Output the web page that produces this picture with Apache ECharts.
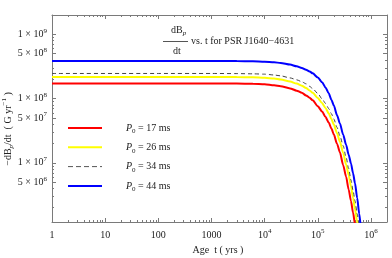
<!DOCTYPE html>
<html><head><meta charset="utf-8">
<script src="https://cdn.jsdelivr.net/npm/echarts@6/dist/echarts.min.js"></script>
<style>html,body{margin:0;padding:0;background:#fff}#c{width:392px;height:258px}</style>
</head><body><div id="c"></div>
<script>
// ---- data ----
const xMajorTicks = [1, 10, 100, 1000, 1e4, 1e5, 1e6];
const xTickLabels = ['1', '10', '100', '1000', '10^4', '10^5', '10^6'];
const yMajorTicks = [5e6, 1e7, 5e7, 1e8, 5e8, 1e9];
const yTickLabels = ['5 × 10^6', '1 × 10^7', '5 × 10^7', '1 × 10^8', '5 × 10^8', '1 × 10^9'];
const legendLabels = ['P0 = 17 ms', 'P0 = 26 ms', 'P0 = 34 ms', 'P0 = 44 ms'];
// ages (yrs) at which the curves were read
const ages = [1, 100, 1000, 3000, 6000, 1e4, 1.5e4, 2e4, 3e4, 4e4, 5e4, 6e4, 7e4, 8e4, 1e5, 1.2e5, 1.4e5, 1.6e5, 1.8e5, 2e5, 2.3e5, 2.6e5, 3e5, 3.4e5, 3.8e5, 4.2e5, 4.6e5, 5e5, 5.5e5, 6e5, 6.5e5, 7e5];
// -dBp/dt (G/yr) for each age
const p17 = [1.72e8, 1.72e8, 1.72e8, 1.71e8, 1.70e8, 1.67e8, 1.61e8, 1.56e8, 1.44e8, 1.33e8, 1.23e8, 1.12e8, 1.03e8, 9.4e7, 7.6e7, 6.3e7, 5.15e7, 4.24e7, 3.42e7, 2.76e7, 1.97e7, 1.46e7, 9.2e6, 6.1e6, 3.85e6, 2.55e6, 1.68e6, 1.12e6, 6.9e5];
const p26 = [2.17e8, 2.17e8, 2.17e8, 2.16e8, 2.14e8, 2.11e8, 2.05e8, 1.98e8, 1.84e8, 1.71e8, 1.59e8, 1.46e8, 1.34e8, 1.23e8, 1.02e8, 8.5e7, 7.1e7, 5.9e7, 4.8e7, 3.94e7, 2.88e7, 2.14e7, 1.42e7, 9.4e6, 6.5e6, 4.3e6, 2.84e6, 1.91e6, 1.19e6, 7.7e5];
const p34 = [2.46e8, 2.46e8, 2.46e8, 2.45e8, 2.43e8, 2.40e8, 2.33e8, 2.26e8, 2.10e8, 1.96e8, 1.83e8, 1.70e8, 1.55e8, 1.43e8, 1.20e8, 9.9e7, 8.4e7, 7.0e7, 5.8e7, 4.8e7, 3.56e7, 2.64e7, 1.84e7, 1.22e7, 8.2e6, 5.4e6, 3.7e6, 2.57e6, 1.6e6, 1.03e6, 6.6e5];
const p44 = [3.85e8, 3.85e8, 3.85e8, 3.83e8, 3.80e8, 3.75e8, 3.67e8, 3.59e8, 3.38e8, 3.18e8, 3.0e8, 2.81e8, 2.65e8, 2.47e8, 2.12e8, 1.8e8, 1.48e8, 1.21e8, 9.6e7, 7.8e7, 5.5e7, 4.1e7, 2.73e7, 1.91e7, 1.34e7, 9.8e6, 6.9e6, 4.8e6, 2.83e6, 1.62e6, 9.6e5, 5.9e5];

const X_MIN = 1, X_MAX = 2e6, Y_MIN = 1.2e6, Y_MAX = 2e9;
const FONT = 'Liberation Serif';
const FRAME = '#7a7a7a';
const TXT = '#222';

function minorTicks(lo, hi, majors) {
  const out = [];
  for (let e = Math.floor(Math.log10(lo)); e <= Math.ceil(Math.log10(hi)); e++) {
    for (let k = 1; k <= 9; k++) {
      const v = k * Math.pow(10, e);
      if (v > lo && v < hi && !majors.some(m => Math.abs(Math.log10(m) - Math.log10(v)) < 1e-9)) out.push(v);
    }
  }
  return out;
}
const xMinor = minorTicks(X_MIN, X_MAX, xMajorTicks);
const yMinor = minorTicks(Y_MIN, Y_MAX, yMajorTicks);

function lookup(ticks, labels, v) {
  for (let i = 0; i < ticks.length; i++) if (Math.abs(Math.log10(ticks[i]) - Math.log10(v)) < 1e-6) return labels[i];
  return '';
}
function toRich(s) {
  const i = s.indexOf('^');
  if (i < 0) return '{b|' + s + '}';
  return '{b|' + s.slice(0, i) + '}{sup|' + s.slice(i + 1) + '}';
}
const richBase = {
  b: { fontFamily: FONT, fontSize: 10, lineHeight: 14, color: TXT },
  sup: { fontFamily: FONT, fontSize: 7, lineHeight: 7, verticalAlign: 'top', color: TXT }
};

function xAxisDef(pos, major, withLine) {
  return {
    type: 'log', logBase: 10, min: X_MIN, max: X_MAX, position: pos, gridIndex: 0,
    splitLine: { show: false }, minorTick: { show: false },
    axisLine: { show: withLine, lineStyle: { color: FRAME, width: 1 } },
    axisTick: { show: true, inside: true, length: major ? 4 : 2, customValues: major ? xMajorTicks : xMinor, lineStyle: { color: FRAME, width: 1 } },
    axisLabel: (pos === 'bottom' && major) ? {
      show: true, customValues: xMajorTicks, margin: 6,
      formatter: v => toRich(lookup(xMajorTicks, xTickLabels, v)), rich: richBase
    } : { show: false }
  };
}
function yAxisDef(pos, major, withLine) {
  return {
    type: 'log', logBase: 10, min: Y_MIN, max: Y_MAX, position: pos, gridIndex: 0,
    splitLine: { show: false }, minorTick: { show: false },
    axisLine: { show: withLine, lineStyle: { color: FRAME, width: 1 } },
    axisTick: { show: true, inside: true, length: major ? 4 : 2, customValues: major ? yMajorTicks : yMinor, lineStyle: { color: FRAME, width: 1 } },
    axisLabel: (pos === 'left' && major) ? {
      show: true, customValues: yMajorTicks, margin: 5,
      formatter: v => toRich(lookup(yMajorTicks, yTickLabels, v)), rich: richBase
    } : { show: false }
  };
}

const colors = ['#ff0000', '#ffff00', '#444444', '#0000ff'];
const seriesValues = [p17, p26, p34, p44];
const series = seriesValues.map((vals, i) => ({
  name: legendLabels[i], type: 'line', xAxisIndex: 0, yAxisIndex: 0,
  data: vals.map((v, k) => [ages[k], v]),
  symbol: 'none', smooth: 0.25, smoothMonotone: 'x', clip: true,
  lineStyle: i === 2 ? { color: colors[i], width: 1, type: [4, 3] } : { color: colors[i], width: 2 },
  itemStyle: { color: colors[i] }, z: i === 2 ? 5 : 3
}));

const chart = echarts.init(document.getElementById('c'), null, { renderer: 'canvas' });
chart.setOption({
  animation: false,
  backgroundColor: '#fff',
  grid: { left: 52, right: 5, top: 15, bottom: 36, containLabel: false },
  xAxis: [xAxisDef('bottom', true, true), xAxisDef('bottom', false, false), xAxisDef('top', true, true), xAxisDef('top', false, false)],
  yAxis: [yAxisDef('left', true, true), yAxisDef('left', false, false), yAxisDef('right', true, true), yAxisDef('right', false, false)],
  legend: {
    orient: 'vertical', left: 67, top: 123, padding: 0,
    itemWidth: 34, itemHeight: 10, itemGap: 7.3,
    itemStyle: { opacity: 0 },
    data: legendLabels.map((n, i) => i === 2
      ? { name: n, lineStyle: { width: 1, type: [5, 3], color: '#555' } }
      : { name: n, lineStyle: { width: 2 } }),
    formatter: name => '{i|P}{s|0}{t|' + name.replace('P0', '') + '}',
    textStyle: {
      padding: [0, 0, 0, 19],
      rich: {
        i: { fontFamily: FONT, fontSize: 10, fontStyle: 'italic', lineHeight: 14, color: TXT },
        s: { fontFamily: FONT, fontSize: 7, lineHeight: 7, verticalAlign: 'bottom', color: TXT },
        t: { fontFamily: FONT, fontSize: 10, lineHeight: 14, color: TXT }
      }
    }
  },
  graphic: [
    { type: 'text', left: 171, top: 25, style: { text: '{a|dB}{s|p}', rich: { a: { fontFamily: FONT, fontSize: 10, lineHeight: 13, fill: TXT }, s: { fontFamily: FONT, fontSize: 7, fontStyle: 'italic', lineHeight: 7, verticalAlign: 'bottom', fill: TXT } } } },
    { type: 'line', shape: { x1: 163, y1: 41.5, x2: 188, y2: 41.5 }, style: { stroke: '#555', lineWidth: 1 } },
    { type: 'text', left: 173, top: 46, style: { text: 'dt', fontFamily: FONT, fontSize: 10, fill: TXT } },
    { type: 'text', left: 191, top: 36, style: { text: 'vs. t for PSR J1640\u22124631', fontFamily: FONT, fontSize: 10, fill: TXT } },
    { type: 'text', x: 8, y: 129, rotation: Math.PI / 2,
      style: { text: '{a|\u2212dB}{s|p}{a|/dt  ( G yr}{u|\u22121}{a| )}', align: 'center', verticalAlign: 'middle',
        rich: { a: { fontFamily: FONT, fontSize: 10, lineHeight: 14, fill: TXT }, s: { fontFamily: FONT, fontSize: 7, fontStyle: 'italic', lineHeight: 7, verticalAlign: 'bottom', fill: TXT }, u: { fontFamily: FONT, fontSize: 7, lineHeight: 7, verticalAlign: 'top', fill: TXT } } } },
    { type: 'text', x: 218, y: 250, style: { text: 'Age  t ( yrs )', fontFamily: FONT, fontSize: 10, fill: TXT, align: 'center', verticalAlign: 'middle' } }
  ],
  series: series
});
</script></body></html>
